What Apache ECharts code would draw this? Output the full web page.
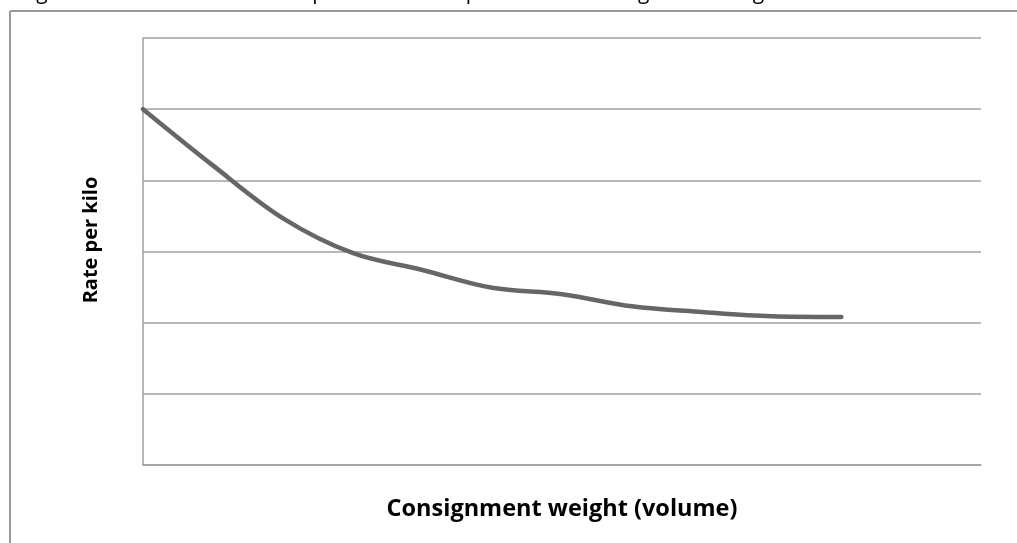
<!DOCTYPE html>
<html>
<head>
<meta charset="utf-8">
<script src="https://cdn.jsdelivr.net/npm/echarts@6/dist/echarts.min.js"></script>
<style>
html,body{margin:0;padding:0;background:#fff;}
#chart{width:1017px;height:543px;}
</style>
</head>
<body>
<div id="chart"></div>
<script>
// Data
const categories = ['1','2','3','4','5','6','7','8','9','10','11','12','13'];
const ratePerKilo = [5.0, 4.21, 3.47, 2.98, 2.74, 2.49, 2.40, 2.23, 2.15, 2.09, 2.08];
const yTicks = [0, 1, 2, 3, 4, 5, 6];
const titleText = 'Figure 4: Indicative relationship between rate per kilo and consignment weight';
const xName = 'Consignment weight (volume)';
const yName = 'Rate per kilo';

const chart = echarts.init(document.getElementById('chart'), null, {renderer: 'canvas'});
const gridColor = '#a0a0a0';
chart.setOption({
  animation: false,
  backgroundColor: '#ffffff',
  grid: {left: 143, top: 38, right: 36, bottom: 78},
  xAxis: {
    type: 'category',
    data: categories,
    boundaryGap: false,
    axisLine: {show: true, lineStyle: {color: gridColor, width: 1.5}},
    axisTick: {show: false},
    axisLabel: {show: false},
    splitLine: {show: false},
    name: xName,
    nameLocation: 'middle',
    nameGap: 32,
    nameTextStyle: {fontFamily: 'Open Sans', fontWeight: 'bold', fontSize: 23.5, color: '#000'}
  },
  yAxis: {
    type: 'value',
    min: yTicks[0],
    max: yTicks[yTicks.length - 1],
    interval: 1,
    axisLine: {show: true, lineStyle: {color: gridColor, width: 1.5}},
    axisTick: {show: false},
    axisLabel: {show: false},
    splitLine: {show: true, lineStyle: {color: gridColor, width: 1.5}},
    name: yName,
    nameLocation: 'end',
    nameRotate: 90,
    nameGap: 0,
    nameTextStyle: {color: 'transparent', fontSize: 1}
  },
  series: [{
    type: 'line',
    data: ratePerKilo,
    smooth: 0.35,
    showSymbol: false,
    lineStyle: {color: '#666666', width: 4.5, cap: 'round'}
  }],
  graphic: [
    {type: 'text', x: 91, y: 240, rotation: Math.PI / 2, silent: true,
     style: {text: yName, font: 'bold 20px "Open Sans"', fill: '#000', align: 'center', verticalAlign: 'middle'}},
    {type: 'text', left: 20, top: -17, silent: true,
     style: {text: titleText, font: '21px "Open Sans"', fill: '#000'}},
    {type: 'line', shape: {x1: 10, y1: 11, x2: 1017, y2: 11},
     style: {stroke: '#9a9a9a', lineWidth: 2}},
    {type: 'line', shape: {x1: 10, y1: 11, x2: 10, y2: 543},
     style: {stroke: '#9a9a9a', lineWidth: 2}}
  ]
});
</script>
</body>
</html>
